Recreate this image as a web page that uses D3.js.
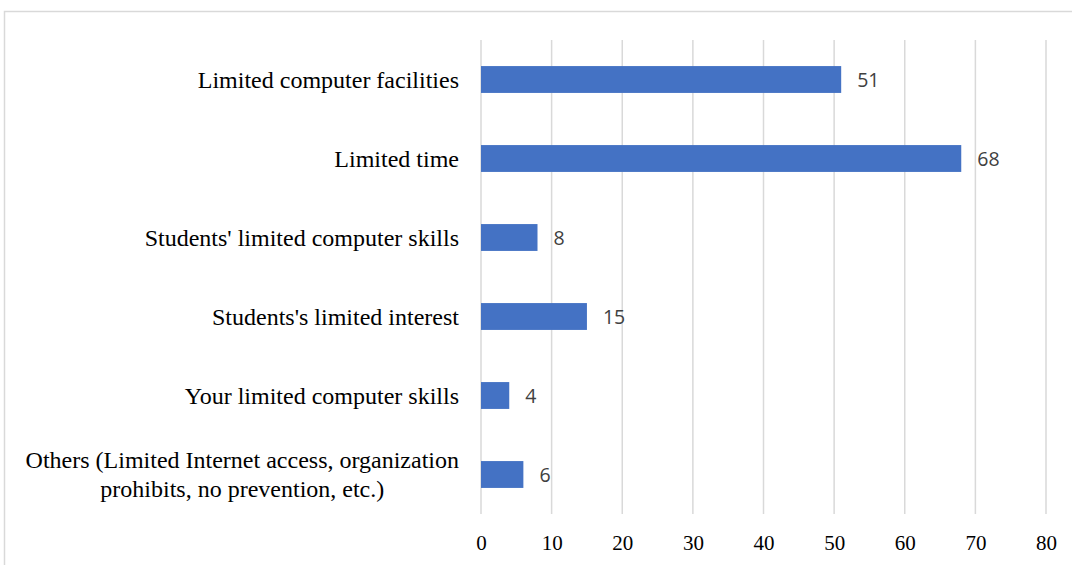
<!DOCTYPE html>
<html>
<head>
<meta charset="utf-8">
<script src="https://cdn.jsdelivr.net/npm/d3@7"></script>
<style>
  html, body { margin: 0; padding: 0; background: #fff; }
  svg { display: block; }
</style>
</head>
<body>
<svg id="chart" width="1072" height="565"></svg>
<script>
// Reported obstacles and how many respondents named each
const categories = [
  "Limited computer facilities",
  "Limited time",
  "Students' limited computer skills",
  "Students's limited interest",
  "Your limited computer skills",
  "Others (Limited Internet access, organization|prohibits, no prevention, etc.)"
];
const counts = [51, 68, 8, 15, 4, 6];
const tickValues = [0, 10, 20, 30, 40, 50, 60, 70, 80];

const svg = d3.select("#chart");

// outer frame
svg.append("rect")
  .attr("x", 4.5).attr("y", 11.5)
  .attr("width", 1100).attr("height", 600)
  .attr("fill", "none")
  .attr("stroke", "#d9d9d9")
  .attr("stroke-width", 1.5);

const plot = { left: 481, right: 1046, top: 40, bottom: 514 };

const x = d3.scaleLinear().domain([0, 80]).range([plot.left, plot.right]);
const y = d3.scaleBand().domain(categories).range([plot.top, plot.bottom]).paddingInner(0.66).paddingOuter(0.33);

// vertical gridlines
svg.append("g")
  .selectAll("line")
  .data(tickValues)
  .join("line")
  .attr("x1", d => x(d)).attr("x2", d => x(d))
  .attr("y1", plot.top).attr("y2", plot.bottom)
  .attr("stroke", "#d9d9d9")
  .attr("stroke-width", 1.5);

// x axis labels
const xAxis = d3.axisBottom(x).tickValues(tickValues).tickSize(0).tickPadding(0);
const gx = svg.append("g")
  .attr("transform", `translate(0,${plot.bottom + 21})`)
  .call(xAxis);
gx.select(".domain").remove();
gx.selectAll("text")
  .attr("font-family", "'Liberation Serif', 'Times New Roman', serif")
  .attr("font-size", 21)
  .attr("fill", "#000")
  .attr("dy", "0.71em");

// bars
svg.append("g")
  .selectAll("rect")
  .data(categories)
  .join("rect")
  .attr("x", x(0))
  .attr("y", d => y(d))
  .attr("width", (d, i) => x(counts[i]) - x(0))
  .attr("height", y.bandwidth())
  .attr("fill", "#4472C4");

// value labels
svg.append("g")
  .selectAll("text")
  .data(categories)
  .join("text")
  .attr("x", (d, i) => x(counts[i]) + 16)
  .attr("y", d => y(d) + y.bandwidth() / 2)
  .attr("dy", "0.38em")
  .attr("font-family", "'Open Sans', 'Noto Sans', sans-serif")
  .attr("font-size", 19.5)
  .attr("fill", "#404040")
  .text((d, i) => counts[i]);

// category labels (multi-line labels are centred as a block, right edge at the axis)
const labelRight = 459;
const lineHeight = 29;
const labels = svg.append("g")
  .attr("font-family", "'Liberation Serif', 'Times New Roman', serif")
  .attr("font-size", 24)
  .attr("fill", "#000");

categories.forEach(c => {
  const lines = c.split("|");
  const cy = y(c) + y.bandwidth() / 2;
  const t = labels.append("text");
  if (lines.length === 1) {
    t.attr("x", labelRight).attr("y", cy).attr("dy", "0.35em")
      .attr("text-anchor", "end").text(lines[0]);
  } else {
    // measure widest line to place the centred block
    const spans = lines.map((ln, i) => t.append("tspan").text(ln));
    const widths = spans.map(s => s.node().getComputedTextLength());
    const maxW = d3.max(widths);
    const cx = labelRight - maxW / 2;
    const y0 = cy - (lines.length - 1) * lineHeight / 2;
    t.attr("text-anchor", "middle");
    spans.forEach((s, i) => s.attr("x", cx).attr("y", y0 + i * lineHeight).attr("dy", "0.35em"));
  }
});
</script>
</body>
</html>
